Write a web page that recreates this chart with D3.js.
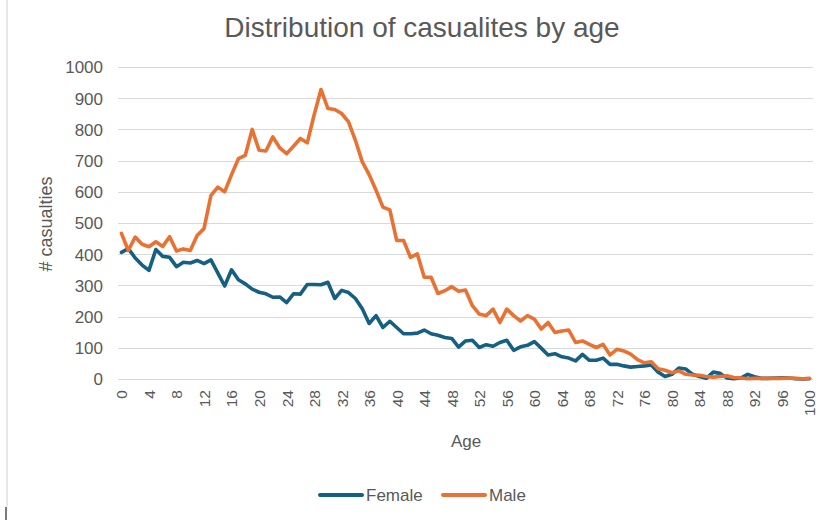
<!DOCTYPE html>
<html>
<head>
<meta charset="utf-8">
<script src="https://cdn.jsdelivr.net/npm/d3@7"></script>
<style>
  html, body { margin: 0; padding: 0; background: #fff; }
  svg { display: block; }
</style>
</head>
<body>
<svg id="chart" width="829" height="520"></svg>
<script>
const ages = d3.range(0, 101);
const female = [406,418,388,365,348,415,393,390,360,374,372,380,370,382,340,298,350,318,305,288,
  278,273,262,263,245,273,272,303,303,302,310,258,284,277,258,225,178,203,165,185,
  165,145,145,147,157,145,140,133,130,102,122,124,101,110,105,117,124,92,103,108,
  120,99,77,81,71,67,58,79,60,60,67,47,47,42,38,40,42,45,22,8,
  15,35,32,15,8,2,22,18,3,1,3,15,7,2,2,3,4,3,1,0,1];
const male = [467,412,455,432,424,440,425,456,410,417,412,460,482,588,615,600,655,706,717,800,
  733,731,776,741,722,746,771,757,846,928,867,864,851,824,765,696,655,605,551,542,
  444,444,390,401,326,326,274,283,296,281,285,235,208,203,224,181,224,203,186,203,
  192,160,181,149,154,157,117,122,111,101,111,77,95,90,80,62,52,55,33,28,
  20,26,15,13,12,8,6,8,10,5,3,1,2,2,2,2,2,3,2,1,2];
const yTicks = [0,100,200,300,400,500,600,700,800,900,1000];
const xTickAges = ages.filter(a => a % 4 === 0);
const seriesNames = ["Female", "Male"];
const colors = { Female: "#156082", Male: "#E97132" };

const svg = d3.select("#chart");
const font = "'Liberation Sans', Arial, sans-serif";
const textColor = "#595959";

// frame artifact on left
svg.append("line").attr("x1", 7).attr("x2", 7).attr("y1", 0).attr("y2", 507)
  .attr("stroke", "#d0d0d0").attr("stroke-width", 1);
svg.append("line").attr("x1", 6).attr("x2", 6).attr("y1", 507).attr("y2", 520)
  .attr("stroke", "#222").attr("stroke-width", 1.2);

const x = d3.scalePoint().domain(ages).range([118, 813]).padding(0.5);
const y = d3.scaleLinear().domain([0, 1000]).range([379, 67]);

// gridlines
svg.append("g").selectAll("line").data(yTicks).join("line")
  .attr("x1", 118).attr("x2", 813)
  .attr("y1", d => Math.round(y(d)) + 0.5).attr("y2", d => Math.round(y(d)) + 0.5)
  .attr("stroke", "#d9d9d9").attr("stroke-width", 1);

// y axis labels
const yAxis = d3.axisLeft(y).tickValues(yTicks).tickFormat(d3.format("d")).tickSize(0).tickPadding(0);
const gy = svg.append("g").attr("transform", "translate(103,0)").call(yAxis);
gy.select(".domain").remove();
gy.selectAll("text").attr("font-family", font).attr("font-size", 17)
  .attr("fill", textColor).attr("dy", "0.35em");

// x axis
const xAxis = d3.axisBottom(x).tickValues(xTickAges).tickSize(0).tickPadding(0);
const gx = svg.append("g").attr("transform", "translate(0,379)").call(xAxis);
gx.select(".domain").remove();
gx.selectAll("text")
  .attr("font-family", font).attr("font-size", 15.5).attr("fill", textColor)
  .attr("text-anchor", "end")
  .attr("transform", "rotate(-90)")
  .attr("x", -11).attr("y", 0).attr("dy", "0.35em");

// lines
const line = d3.line().x((d, i) => x(ages[i])).y(d => y(d)).curve(d3.curveLinear);
[["Female", female], ["Male", male]].forEach(([name, vals]) => {
  svg.append("path").datum(vals)
    .attr("fill", "none").attr("stroke", colors[name])
    .attr("stroke-width", 3.6).attr("stroke-linejoin", "round").attr("stroke-linecap", "round")
    .attr("d", line);
});

// title
svg.append("text").attr("x", 422).attr("y", 37).attr("text-anchor", "middle")
  .attr("font-family", font)
  .attr("font-size", 28).attr("fill", textColor)
  .text("Distribution of casualites by age");

// axis titles
svg.append("text").attr("transform", "translate(52,224) rotate(-90)").attr("text-anchor", "middle")
  .attr("font-family", font).attr("font-size", 18).attr("fill", textColor)
  .text("# casualties");
svg.append("text").attr("x", 466).attr("y", 447).attr("text-anchor", "middle")
  .attr("font-family", font).attr("font-size", 17).attr("fill", textColor)
  .text("Age");

// legend
const legend = svg.append("g");
const legendItems = [{ name: "Female", x: 320 }, { name: "Male", x: 443 }];
legendItems.forEach(it => {
  legend.append("line").attr("x1", it.x).attr("x2", it.x + 42).attr("y1", 495).attr("y2", 495)
    .attr("stroke", colors[it.name]).attr("stroke-width", 4).attr("stroke-linecap", "round");
  legend.append("text").attr("x", it.x + 46).attr("y", 501)
    .attr("font-family", font).attr("font-size", 17).attr("fill", textColor)
    .text(it.name);
});
</script>
</body>
</html>
